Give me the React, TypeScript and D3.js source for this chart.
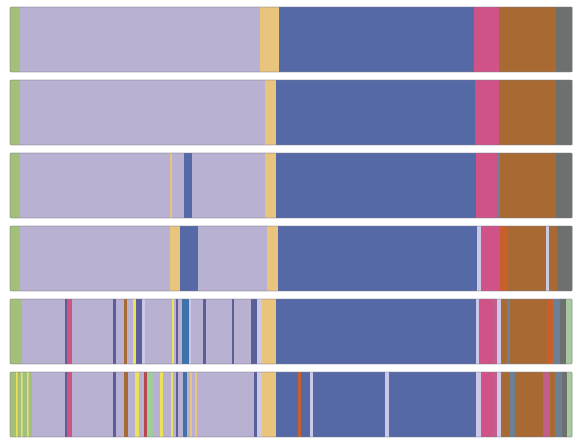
import React from "react";
import * as d3 from "d3";

const rowNames = ["s1", "s2", "s3", "s4", "s5", "s6"];

const stateKeys = ["g", "l", "o", "b", "p", "r", "k", "d", "w", "y", "s", "e", "m", "t", "v", "q", "x"];
const stateColors = [
  "#a2c07a", "#b9b1d2", "#e9c47c", "#5469a6", "#cf5286", "#a86a32", "#6c6f6e",
  "#5b5f97", "#cbc8e8", "#ece15c", "#3f72aa", "#b6464e", "#9ccf9c", "#6d8196",
  "#c0608a", "#c8602e", "#a8c8a0",
];

// [state, start, end] along the sequence (0..562)
const row1: [string, number, number][] = [
  ["g", 0, 10], ["l", 10, 250], ["o", 250, 269], ["b", 269, 464], ["p", 464, 489], ["r", 489, 546], ["k", 546, 562],
];
const row2: [string, number, number][] = [
  ["g", 0, 10], ["l", 10, 255], ["o", 255, 266], ["b", 266, 465], ["p", 465, 489], ["r", 489, 546], ["k", 546, 562],
];
const row3: [string, number, number][] = [
  ["g", 0, 10], ["l", 10, 160], ["o", 160, 162], ["l", 162, 174], ["b", 174, 182], ["l", 182, 255], ["o", 255, 266],
  ["b", 266, 466], ["p", 466, 487], ["t", 487, 490], ["r", 490, 546], ["k", 546, 562],
];
const row4: [string, number, number][] = [
  ["g", 0, 10], ["l", 10, 160], ["o", 160, 170], ["b", 170, 188], ["l", 188, 257], ["o", 257, 268],
  ["b", 268, 467], ["w", 467, 471], ["p", 471, 490], ["q", 490, 498], ["r", 498, 536], ["w", 536, 539],
  ["r", 539, 547], ["k", 547, 562],
];
const row5: [string, number, number][] = [
  ["g", 0, 12], ["l", 12, 55], ["d", 55, 57], ["p", 57, 62], ["l", 62, 103], ["d", 103, 106], ["l", 106, 114],
  ["r", 114, 117], ["l", 117, 123], ["y", 123, 126], ["d", 126, 132], ["w", 132, 135], ["l", 135, 162],
  ["y", 162, 164], ["l", 164, 166], ["d", 166, 168], ["l", 168, 172], ["s", 172, 179], ["w", 179, 181],
  ["l", 181, 193], ["d", 193, 196], ["l", 196, 222], ["d", 222, 224], ["l", 224, 241], ["d", 241, 247],
  ["w", 247, 252], ["o", 252, 266], ["b", 266, 466], ["w", 466, 469], ["p", 469, 483], ["v", 483, 487],
  ["w", 487, 491], ["r", 491, 497], ["t", 497, 500], ["r", 500, 537], ["q", 537, 543], ["t", 543, 550],
  ["k", 550, 556], ["x", 556, 562],
];
const row6: [string, number, number][] = [
  ["g", 0, 6], ["y", 6, 7.5], ["g", 7.5, 11], ["y", 11, 12.5], ["g", 12.5, 17], ["y", 17, 18.5], ["g", 18.5, 22],
  ["l", 22, 55], ["d", 55, 57], ["p", 57, 62], ["l", 62, 103], ["d", 103, 106], ["l", 106, 114], ["r", 114, 118],
  ["l", 118, 125], ["y", 125, 129], ["l", 129, 134], ["e", 134, 137], ["m", 137, 143], ["l", 143, 150],
  ["y", 150, 153], ["l", 153, 161], ["y", 161, 163], ["l", 163, 166], ["d", 166, 168], ["l", 168, 173],
  ["s", 173, 177], ["l", 177, 180], ["o", 180, 182], ["l", 182, 185], ["o", 185, 187], ["l", 187, 244],
  ["d", 244, 247], ["w", 247, 252], ["o", 252, 266], ["b", 266, 288], ["q", 288, 291], ["b", 291, 300],
  ["w", 300, 303], ["b", 303, 375], ["w", 375, 379], ["b", 379, 466], ["w", 466, 471], ["p", 471, 483],
  ["v", 483, 487], ["w", 487, 491], ["r", 491, 500], ["t", 500, 505], ["r", 505, 533], ["v", 533, 540],
  ["r", 540, 545], ["t", 545, 552], ["k", 552, 557], ["x", 557, 562],
];

const rows = [row1, row2, row3, row4, row5, row6];
const seqLength = 562;

export default function App() {
  const W = 584, H = 448;
  const x = d3.scaleLinear().domain([0, seqLength]).range([10, 572]);
  const y = d3.scaleBand().domain(rowNames).range([7, 437]).paddingInner(0.11).paddingOuter(0);
  const color = d3.scaleOrdinal<string, string>().domain(stateKeys).range(stateColors);

  return (
    <svg width={W} height={H} style={{ position: "absolute", left: 0, top: 0, background: "#fff" }}>
      <defs>
        <filter id="soft" x="-1%" y="-5%" width="102%" height="110%">
          <feGaussianBlur stdDeviation="0.6" />
        </filter>
      </defs>
      {rows.map((segs, i) => {
        const y0 = y(rowNames[i]) as number;
        const h = y.bandwidth();
        return (
          <g key={i}>
            <g filter="url(#soft)">
              {segs.map(([k, a, b], j) => (
                <rect
                  key={j}
                  x={x(a)}
                  y={y0}
                  width={Math.max(0, x(b) - x(a)) + 0.3}
                  height={h}
                  fill={color(k)}
                />
              ))}
            </g>
            <rect
              x={x(0)}
              y={y0}
              width={x(seqLength) - x(0)}
              height={h}
              fill="none"
              stroke="#7a7a8a"
              strokeOpacity={0.45}
              strokeWidth={1}
              rx={1.5}
            />
          </g>
        );
      })}
    </svg>
  );
}
